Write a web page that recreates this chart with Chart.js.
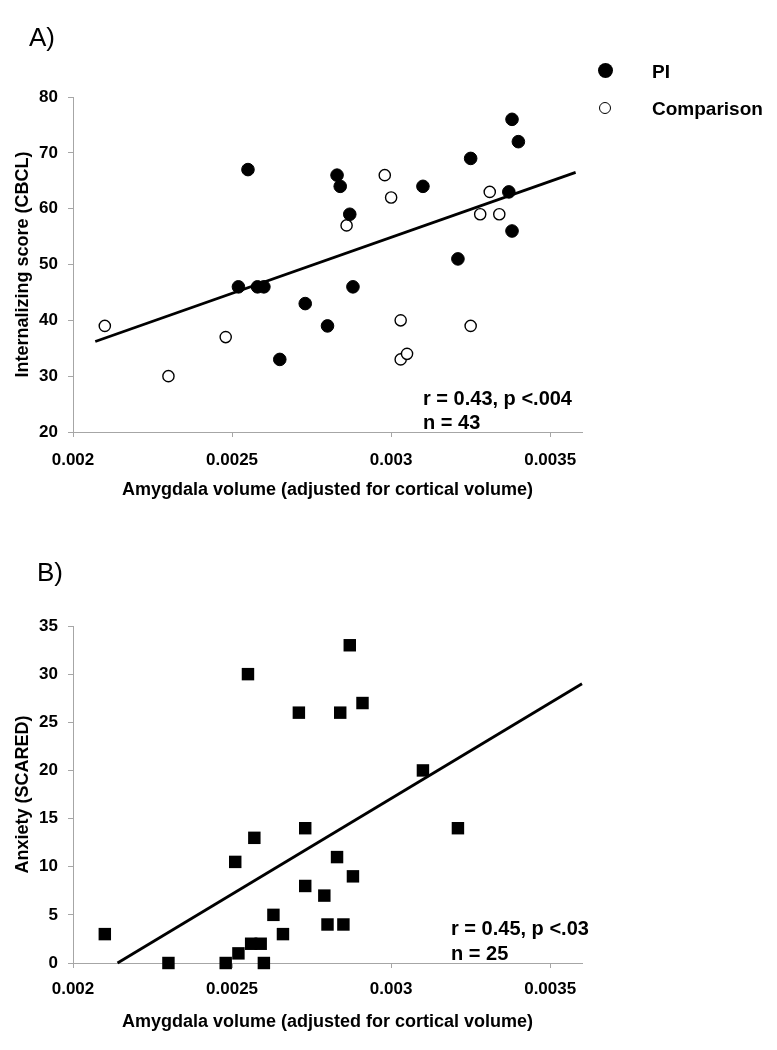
<!DOCTYPE html>
<html>
<head>
<meta charset="utf-8">
<script src="https://cdn.jsdelivr.net/npm/chart.js@4.4.1/dist/chart.umd.min.js"></script>
<style>
  html, body { margin: 0; padding: 0; background: #fff; }
  body { width: 777px; height: 1050px; position: relative; overflow: hidden;
         font-family: "Liberation Sans", Arial, sans-serif; color: #000; }
  .panel { position: absolute; left: 0; width: 777px; }
  #panelA { top: 0; height: 520px; }
  #panelB { top: 520px; height: 530px; }
  .txt { position: absolute; white-space: nowrap; line-height: 1; }
  .tag { font-size: 26px; font-weight: normal; }
  .leg { font-size: 19px; font-weight: bold; }
  .note { font-size: 20px; font-weight: bold; }
  .dot { position: absolute; border-radius: 50%; box-sizing: border-box; }
</style>
</head>
<body>

<div class="panel" id="panelA">
  <canvas id="chartA" width="777" height="520"></canvas>
  <div class="txt tag" style="left:29px; top:24px;">A)</div>
  <div class="dot" style="left:598px; top:63px; width:15px; height:15px; background:#000;"></div>
  <div class="txt leg" style="left:652px; top:62px;">PI</div>
  <div class="dot" style="left:599px; top:102px; width:12px; height:12px; border:1.4px solid #000; background:#fff;"></div>
  <div class="txt leg" style="left:652px; top:99px;">Comparison</div>
  <div class="txt note" style="left:423px; top:388px;">r = 0.43, p &lt;.004</div>
  <div class="txt note" style="left:423px; top:412px;">n = 43</div>
</div>

<div class="panel" id="panelB">
  <canvas id="chartB" width="777" height="530"></canvas>
  <div class="txt tag" style="left:37px; top:39px;">B)</div>
  <div class="txt note" style="left:451px; top:398px;">r = 0.45, p &lt;.03</div>
  <div class="txt note" style="left:451px; top:423px;">n = 25</div>
</div>

<script>
// Panel A - internalizing score (CBCL)
const piX = [0.00255, 0.00252, 0.00258, 0.00260, 0.00265, 0.00273, 0.00280, 0.00283, 0.00284,
             0.00287, 0.00288, 0.00310, 0.00321, 0.00325, 0.00337, 0.00338, 0.00340, 0.00338];
const piY = [67, 46, 46, 46, 33, 43, 39, 66, 64, 59, 46, 64, 51, 69, 63, 76, 72, 56];

const compX = [0.00210, 0.00230, 0.00248, 0.00286, 0.00298, 0.00300, 0.00303,
               0.00303, 0.00305, 0.00325, 0.00328, 0.00331, 0.00334];
const compY = [39, 30, 37, 57, 66, 62, 40, 33, 34, 39, 59, 63, 59];

const fitAX = [0.00207, 0.00358];
const fitAY = [36.2, 66.5];

// Panel B - anxiety (SCARED)
const anxX = [0.00210, 0.00230, 0.00248, 0.00251, 0.00252, 0.00255, 0.00257, 0.00256, 0.00259,
              0.00260, 0.00263, 0.00266, 0.00271, 0.00273, 0.00273, 0.00279, 0.00280, 0.00283,
              0.00284, 0.00285, 0.00287, 0.00288, 0.00291, 0.00310, 0.00321];
const anxY = [3, 0, 0, 10.5, 1, 30, 13, 2, 2, 0, 5, 3, 26, 14, 8, 7, 4, 11, 26, 4, 33, 9, 27, 20, 14];

const fitBX = [0.00214, 0.0036];
const fitBY = [0, 29];

// Axes
const xTickValues = [0.002, 0.0025, 0.003, 0.0035];
const xTickLabels = ['0.002', '0.0025', '0.003', '0.0035'];
const xMin = 0.002, xMax = 0.0036;

const toPoints = (xs, ys) => xs.map((x, i) => ({ x: x, y: ys[i] }));

Chart.defaults.font.family = '"Liberation Sans", Arial, sans-serif';
Chart.defaults.color = '#000';

const axisGray = '#a6a6a6';

// builds the scales for one panel
function makeScales(cfg) {
    return {
        x: {
            type: 'linear',
            min: xMin,
            max: xMax,
            afterBuildTicks: (scale) => {
                scale.ticks = xTickValues.map(v => ({ value: v }));
            },
            afterFit: (scale) => { scale.height = cfg.xHeight; },
            ticks: {
                callback: (v, i) => xTickLabels[i],
                font: { size: 17, weight: 'bold' },
                padding: cfg.xTickPad,
                maxRotation: 0,
                autoSkip: false
            },
            grid: { drawOnChartArea: false, drawTicks: true, tickLength: 5, color: axisGray },
            border: { display: true, color: axisGray, width: 1 },
            title: {
                display: true,
                text: 'Amygdala volume (adjusted for cortical volume)',
                font: { size: 18, weight: 'bold' },
                padding: { top: 0, bottom: cfg.xTitlePad }
            }
        },
        y: {
            type: 'linear',
            min: cfg.yMin,
            max: cfg.yMax,
            afterFit: (scale) => { scale.width = 73; },
            ticks: {
                stepSize: cfg.yStep,
                font: { size: 17, weight: 'bold' },
                padding: 10
            },
            grid: { drawOnChartArea: false, drawTicks: true, tickLength: 5, color: axisGray },
            border: { display: true, color: axisGray, width: 1 },
            title: {
                display: true,
                text: cfg.yTitle,
                font: { size: 18, weight: 'bold' },
                padding: { top: 12, bottom: 0 }
            }
        }
    };
}

const baseOptions = (cfg) => ({
    responsive: false,
    animation: false,
    devicePixelRatio: 1,
    layout: { padding: { top: cfg.top, right: 195, bottom: 0, left: 0 } },
    plugins: { legend: { display: false }, tooltip: { enabled: false } },
    scales: makeScales(cfg)
});

const fitLine = (xs, ys) => ({
    data: toPoints(xs, ys),
    showLine: true,
    borderColor: '#000',
    borderWidth: 2.8,
    pointRadius: 0,
    clip: false
});

// Grafico A
new Chart(document.getElementById('chartA'), {
    type: 'scatter',
    data: {
        datasets: [
            {
                label: 'PI',
                data: toPoints(piX, piY),
                pointStyle: 'circle',
                pointRadius: 6.3,
                backgroundColor: '#000',
                borderColor: '#000',
                borderWidth: 1,
                clip: false
            },
            {
                label: 'Comparison',
                data: toPoints(compX, compY),
                pointStyle: 'circle',
                pointRadius: 5.6,
                backgroundColor: '#fff',
                borderColor: '#000',
                borderWidth: 1.4,
                clip: false
            },
            fitLine(fitAX, fitAY)
        ]
    },
    options: baseOptions({
        top: 97, xHeight: 88, xTickPad: 13, xTitlePad: 19,
        yMin: 20, yMax: 80, yStep: 10, yTitle: 'Internalizing score (CBCL)'
    })
});

// Grafico B
new Chart(document.getElementById('chartB'), {
    type: 'scatter',
    data: {
        datasets: [
            {
                label: 'Anxiety',
                data: toPoints(anxX, anxY),
                pointStyle: 'rect',
                pointRadius: 8.8,
                backgroundColor: '#000',
                borderColor: '#000',
                borderWidth: 0,
                clip: false
            },
            fitLine(fitBX, fitBY)
        ]
    },
    options: baseOptions({
        top: 106, xHeight: 87, xTickPad: 11, xTitlePad: 17,
        yMin: 0, yMax: 35, yStep: 5, yTitle: 'Anxiety (SCARED)'
    })
});
</script>
</body>
</html>
